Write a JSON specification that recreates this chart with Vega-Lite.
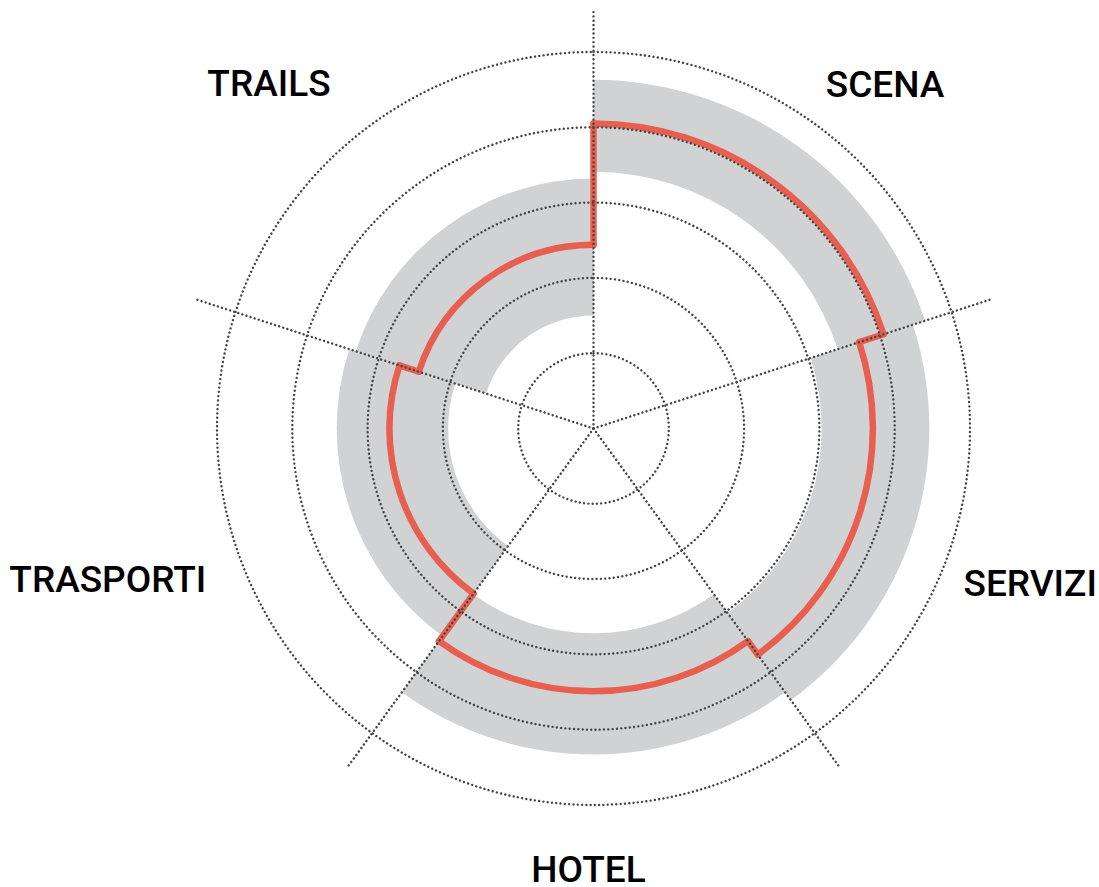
{
  "$schema": "https://vega.github.io/schema/vega-lite/v6.json",
  "width": 1011,
  "height": 857,
  "autosize": {"type": "none"},
  "padding": {"left": 88, "top": 0, "right": 0, "bottom": 30},
  "background": "white",
  "config": {"view": {"stroke": null}},
  "datasets": {
    "sectors": [
      {"category": "SCENA", "start": 0, "end": 1, "mid": 0.5, "low": 3.41, "mean": 4.05, "high": 4.63},
      {"category": "SERVIZI", "start": 1, "end": 2, "mid": 1.5, "low": 3.03, "mean": 3.71, "high": 4.46},
      {"category": "HOTEL", "start": 2, "end": 3, "mid": 2.5, "low": 2.72, "mean": 3.49, "high": 4.33},
      {"category": "TRASPORTI", "start": 3, "end": 4, "mid": 3.5, "low": 1.93, "mean": 2.71, "high": 3.41},
      {"category": "TRAILS", "start": 4, "end": 5, "mid": 4.5, "low": 1.5, "mean": 2.44, "high": 3.32}
    ],
    "steps": [
      {"boundary": 0, "from": 2.44, "to": 4.05},
      {"boundary": 1, "from": 4.05, "to": 3.71},
      {"boundary": 2, "from": 3.71, "to": 3.49},
      {"boundary": 3, "from": 3.49, "to": 2.71},
      {"boundary": 4, "from": 2.71, "to": 2.44}
    ],
    "rings": [{"r": 1}, {"r": 2}, {"r": 3}, {"r": 4}, {"r": 5}]
  },
  "layer": [
    {
      "data": {"name": "sectors"},
      "mark": {"type": "arc", "fill": "#d1d2d4", "stroke": null},
      "encoding": {
        "theta": {"field": "start", "type": "quantitative", "stack": null, "scale": {"type": "linear", "domain": [0, 5], "range": [0, 6.283185307179586]}},
        "theta2": {"field": "end"},
        "radius": {"field": "high", "type": "quantitative", "stack": null, "scale": {"type": "linear", "domain": [0, 5], "range": [0, 376.5], "zero": true}},
        "radius2": {"field": "low"}
      }
    },
    {
      "data": {"name": "sectors"},
      "mark": {"type": "arc", "filled": false, "stroke": "#e95f4f", "strokeWidth": 6.5, "strokeJoin": "round"},
      "encoding": {
        "theta": {"field": "start", "type": "quantitative", "stack": null, "scale": {"type": "linear", "domain": [0, 5], "range": [0, 6.283185307179586]}},
        "theta2": {"field": "end"},
        "radius": {"field": "mean", "type": "quantitative", "stack": null, "scale": {"type": "linear", "domain": [0, 5], "range": [0, 376.5], "zero": true}},
        "radius2": {"field": "mean"}
      }
    },
    {
      "data": {"name": "steps"},
      "mark": {"type": "arc", "filled": false, "stroke": "#e95f4f", "strokeWidth": 6.5, "strokeJoin": "round"},
      "encoding": {
        "theta": {"field": "boundary", "type": "quantitative", "stack": null, "scale": {"type": "linear", "domain": [0, 5], "range": [0, 6.283185307179586]}},
        "theta2": {"field": "boundary"},
        "radius": {"field": "from", "type": "quantitative", "stack": null, "scale": {"type": "linear", "domain": [0, 5], "range": [0, 376.5], "zero": true}},
        "radius2": {"field": "to"}
      }
    },
    {
      "data": {"name": "rings"},
      "mark": {"type": "arc", "filled": false, "stroke": "#444444", "strokeWidth": 2.4, "strokeDash": [0.01, 4.3], "strokeCap": "round"},
      "encoding": {
        "theta": {"datum": 0, "type": "quantitative", "stack": null, "scale": {"type": "linear", "domain": [0, 5], "range": [0, 6.283185307179586]}},
        "theta2": {"datum": 5},
        "radius": {"field": "r", "type": "quantitative", "stack": null, "scale": {"type": "linear", "domain": [0, 5], "range": [0, 376.5], "zero": true}}
      }
    },
    {
      "data": {"name": "sectors"},
      "mark": {"type": "arc", "filled": false, "stroke": "#444444", "strokeWidth": 2.4, "strokeDash": [0.01, 4.28289], "strokeCap": "round"},
      "encoding": {
        "theta": {"field": "start", "type": "quantitative", "stack": null, "scale": {"type": "linear", "domain": [0, 5], "range": [0, 6.283185307179586]}},
        "theta2": {"field": "start"},
        "radius": {"datum": 5.53, "type": "quantitative", "stack": null, "scale": {"type": "linear", "domain": [0, 5], "range": [0, 376.5], "zero": true}},
        "radius2": {"datum": 0}
      }
    },
    {
      "data": {"name": "sectors"},
      "transform": [{"filter": "datum.category === 'SCENA'"}],
      "mark": {"type": "text", "font": "Roboto", "fontWeight": 500, "fontSize": 37, "color": "#000000", "align": "center", "baseline": "alphabetic", "dx": 26, "dy": 34},
      "encoding": {
        "theta": {"field": "mid", "type": "quantitative", "stack": null, "scale": {"type": "linear", "domain": [0, 5], "range": [0, 6.283185307179586]}},
        "radius": {"datum": 6, "type": "quantitative", "stack": null, "scale": {"type": "linear", "domain": [0, 5], "range": [0, 376.5], "zero": true}},
        "text": {"field": "category"}
      }
    },
    {
      "data": {"name": "sectors"},
      "transform": [{"filter": "datum.category === 'SERVIZI'"}],
      "mark": {"type": "text", "font": "Roboto", "fontWeight": 500, "fontSize": 37, "color": "#000000", "align": "center", "baseline": "alphabetic", "dx": 7, "dy": 28},
      "encoding": {
        "theta": {"field": "mid", "type": "quantitative", "stack": null, "scale": {"type": "linear", "domain": [0, 5], "range": [0, 6.283185307179586]}},
        "radius": {"datum": 6, "type": "quantitative", "stack": null, "scale": {"type": "linear", "domain": [0, 5], "range": [0, 376.5], "zero": true}},
        "text": {"field": "category"}
      }
    },
    {
      "data": {"name": "sectors"},
      "transform": [{"filter": "datum.category === 'HOTEL'"}],
      "mark": {"type": "text", "font": "Roboto", "fontWeight": 500, "fontSize": 37, "color": "#000000", "align": "center", "baseline": "alphabetic", "dx": -5, "dy": 2},
      "encoding": {
        "theta": {"field": "mid", "type": "quantitative", "stack": null, "scale": {"type": "linear", "domain": [0, 5], "range": [0, 6.283185307179586]}},
        "radius": {"datum": 6, "type": "quantitative", "stack": null, "scale": {"type": "linear", "domain": [0, 5], "range": [0, 376.5], "zero": true}},
        "text": {"field": "category"}
      }
    },
    {
      "data": {"name": "sectors"},
      "transform": [{"filter": "datum.category === 'TRASPORTI'"}],
      "mark": {"type": "text", "font": "Roboto", "fontWeight": 500, "fontSize": 37, "color": "#000000", "align": "center", "baseline": "alphabetic", "dx": -56, "dy": 24},
      "encoding": {
        "theta": {"field": "mid", "type": "quantitative", "stack": null, "scale": {"type": "linear", "domain": [0, 5], "range": [0, 6.283185307179586]}},
        "radius": {"datum": 6, "type": "quantitative", "stack": null, "scale": {"type": "linear", "domain": [0, 5], "range": [0, 376.5], "zero": true}},
        "text": {"field": "category"}
      }
    },
    {
      "data": {"name": "sectors"},
      "transform": [{"filter": "datum.category === 'TRAILS'"}],
      "mark": {"type": "text", "font": "Roboto", "fontWeight": 500, "fontSize": 37, "color": "#000000", "align": "center", "baseline": "alphabetic", "dx": -59, "dy": 33},
      "encoding": {
        "theta": {"field": "mid", "type": "quantitative", "stack": null, "scale": {"type": "linear", "domain": [0, 5], "range": [0, 6.283185307179586]}},
        "radius": {"datum": 6, "type": "quantitative", "stack": null, "scale": {"type": "linear", "domain": [0, 5], "range": [0, 376.5], "zero": true}},
        "text": {"field": "category"}
      }
    }
  ]
}
